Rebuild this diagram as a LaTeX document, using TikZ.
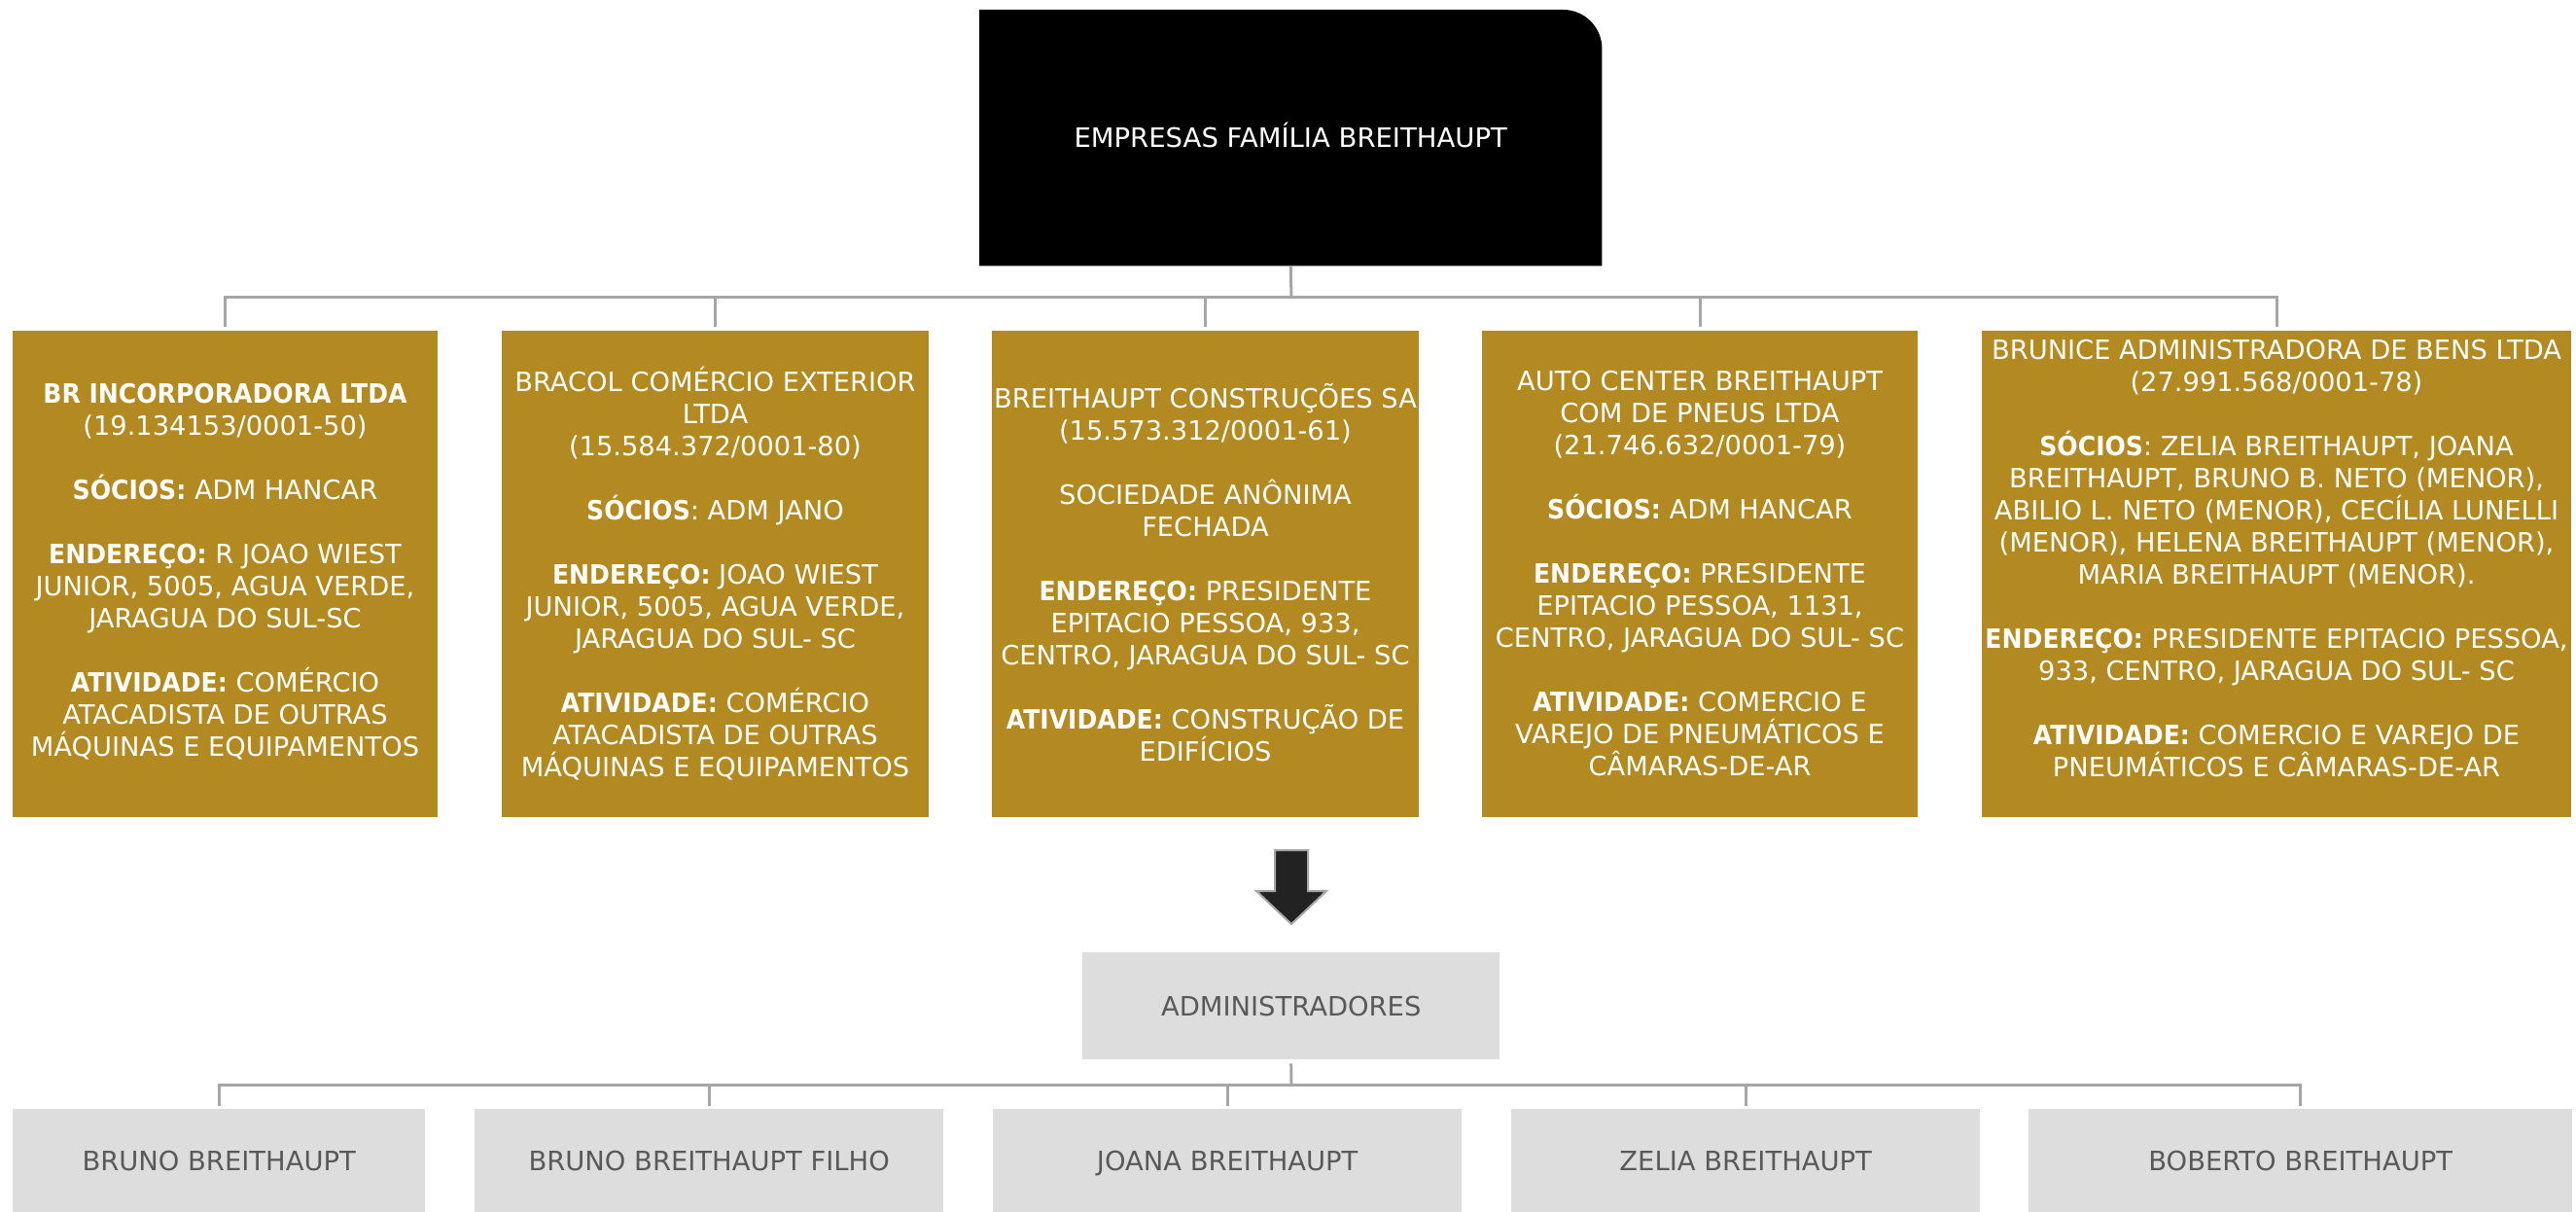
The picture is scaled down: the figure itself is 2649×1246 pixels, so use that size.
\documentclass[tikz,border=0pt]{standalone}
\usepackage{fontspec}
\setmainfont{DejaVu Sans}[BoldFeatures={FakeStretch=0.92}]
\definecolor{goldc}{RGB}{179,137,33}
\definecolor{connc}{RGB}{166,166,166}
\definecolor{boxg}{RGB}{221,221,221}
\definecolor{txtg}{RGB}{89,89,89}
\definecolor{arrowc}{RGB}{34,34,34}
\newcommand\hd{\rule{0pt}{28pt}}
\begin{document}
\begin{tikzpicture}[x=1pt,y=-1pt,
  gold/.style={fill=goldc, draw=none, inner sep=0pt, anchor=north west, minimum height=500pt},
  gtext/.style={text=white, align=center, inner sep=0pt, anchor=north, font=\fontsize{27.3}{33}\selectfont},
  person/.style={fill=boxg, draw=none, inner sep=0pt, anchor=north west, text=txtg, text height=20pt, text depth=0pt, font=\fontsize{27.4}{33}\selectfont},
  conn/.style={draw=connc, line width=3pt},
]
\useasboundingbox (0,0) rectangle (2649,1246);

% top box
\node[inner sep=0pt, anchor=north west, minimum width=640pt, minimum height=263pt] (top) at (1007,10) {};
\fill[black] (top.south west) -- (top.north west) [rounded corners=40pt] -- (top.north east) [sharp corners] -- (top.south east) -- cycle;
\node[text=white, inner sep=0pt, text height=20pt, text depth=0pt, font=\fontsize{27.5}{33}\selectfont] (toptext) at (top.center) {EMPRESAS FAMÍLIA BREITHAUPT};

% gold boxes
\node[gold, minimum width=437pt] (b1) at (13,340) {};
\node[gold, minimum width=439pt] (b2) at (516,340) {};
\node[gold, minimum width=439pt] (b3) at (1020,340) {};
\node[gold, minimum width=448pt] (b4) at (1524,340) {};
\node[gold, minimum width=606pt] (b5) at (2038,340) {};

\node[gtext] (t1) at (231.5,386) {\hd\textbf{BR INCORPORADORA LTDA}\\
(19.134153/0001-50)\\[33pt]
\textbf{SÓCIOS:} ADM HANCAR\\[33pt]
\textbf{ENDEREÇO:} R JOAO WIEST\\
JUNIOR, 5005, AGUA VERDE,\\
JARAGUA DO SUL-SC\\[33pt]
\textbf{ATIVIDADE:} COMÉRCIO\\
ATACADISTA DE OUTRAS\\
MÁQUINAS E EQUIPAMENTOS};

\node[gtext] (t2) at (735.5,374) {\hd BRACOL COMÉRCIO EXTERIOR\\
LTDA\\
(15.584.372/0001-80)\\[33pt]
\textbf{SÓCIOS}: ADM JANO\\[33pt]
\textbf{ENDEREÇO:} JOAO WIEST\\
JUNIOR, 5005, AGUA VERDE,\\
JARAGUA DO SUL- SC\\[33pt]
\textbf{ATIVIDADE:} COMÉRCIO\\
ATACADISTA DE OUTRAS\\
MÁQUINAS E EQUIPAMENTOS};

\node[gtext] (t3) at (1239.5,391) {\hd BREITHAUPT CONSTRUÇÕES SA\\
(15.573.312/0001-61)\\[33pt]
SOCIEDADE ANÔNIMA\\
FECHADA\\[33pt]
\textbf{ENDEREÇO:} PRESIDENTE\\
EPITACIO PESSOA, 933,\\
CENTRO, JARAGUA DO SUL- SC\\[33pt]
\textbf{ATIVIDADE:} CONSTRUÇÃO DE\\
EDIFÍCIOS};

\node[gtext] (t4) at (1748,373) {\hd AUTO CENTER BREITHAUPT\\
COM DE PNEUS LTDA\\
(21.746.632/0001-79)\\[33pt]
\textbf{SÓCIOS:} ADM HANCAR\\[33pt]
\textbf{ENDEREÇO:} PRESIDENTE\\
EPITACIO PESSOA, 1131,\\
CENTRO, JARAGUA DO SUL- SC\\[33pt]
\textbf{ATIVIDADE:} COMERCIO E\\
VAREJO DE PNEUMÁTICOS E\\
CÂMARAS-DE-AR};

\node[gtext] (t5) at (2341,341) {\hd BRUNICE ADMINISTRADORA DE BENS LTDA\\
(27.991.568/0001-78)\\[33pt]
\textbf{SÓCIOS}: ZELIA BREITHAUPT, JOANA\\
BREITHAUPT, BRUNO B. NETO (MENOR),\\
ABILIO L. NETO (MENOR), CECÍLIA LUNELLI\\
(MENOR), HELENA BREITHAUPT (MENOR),\\
MARIA BREITHAUPT (MENOR).\\[33pt]
\textbf{ENDEREÇO:} PRESIDENTE EPITACIO PESSOA,\\
933, CENTRO, JARAGUA DO SUL- SC\\[33pt]
\textbf{ATIVIDADE:} COMERCIO E VAREJO DE\\
PNEUMÁTICOS E CÂMARAS-DE-AR};

% top connectors
\coordinate (busT) at (1328,306);
\draw[conn] (top.south) -- (busT);
\draw[conn] ([yshift=4pt]b1.north) |- (busT -| b5.north) -- ([yshift=4pt]b5.north);
\draw[conn] (busT -| b2.north) -- ([yshift=4pt]b2.north);
\draw[conn] (busT -| b3.north) -- ([yshift=4pt]b3.north);
\draw[conn] (busT -| b4.north) -- ([yshift=4pt]b4.north);

% block arrow
\coordinate (arr) at (1328,874);
\filldraw[fill=arrowc, draw=connc, line width=2pt, line join=miter]
  ([xshift=-17pt]arr) -- ([xshift=17pt]arr) -- ++(0,42) -- ++(19,0) -- (1328,950) -- (1292,916) -- ++(19,0) -- cycle;

% administradores
\node[person, minimum width=429pt, minimum height=110pt] (adm) at (1113,979) {ADMINISTRADORES};

% people
\node[person, minimum width=424pt, minimum height=106pt] (p1) at (13,1140) {BRUNO BREITHAUPT};
\node[person, minimum width=482pt, minimum height=106pt] (p2) at (488,1140) {BRUNO BREITHAUPT FILHO};
\node[person, minimum width=482pt, minimum height=106pt] (p3) at (1021,1140) {JOANA BREITHAUPT};
\node[person, minimum width=482pt, minimum height=106pt] (p4) at (1554,1140) {ZELIA BREITHAUPT};
\node[person, minimum width=559pt, minimum height=106pt] (p5) at (2086,1140) {BOBERTO BREITHAUPT};

% bottom connectors
\coordinate (busB) at (1328,1115);
\draw[conn] ([yshift=-4pt]adm.south) -- (busB);
\draw[conn] ([yshift=3pt]p1.north) |- (busB -| p5.north) -- ([yshift=3pt]p5.north);
\draw[conn] (busB -| p2.north) -- ([yshift=3pt]p2.north);
\draw[conn] (busB -| p3.north) -- ([yshift=3pt]p3.north);
\draw[conn] (busB -| p4.north) -- ([yshift=3pt]p4.north);
\end{tikzpicture}
\end{document}
